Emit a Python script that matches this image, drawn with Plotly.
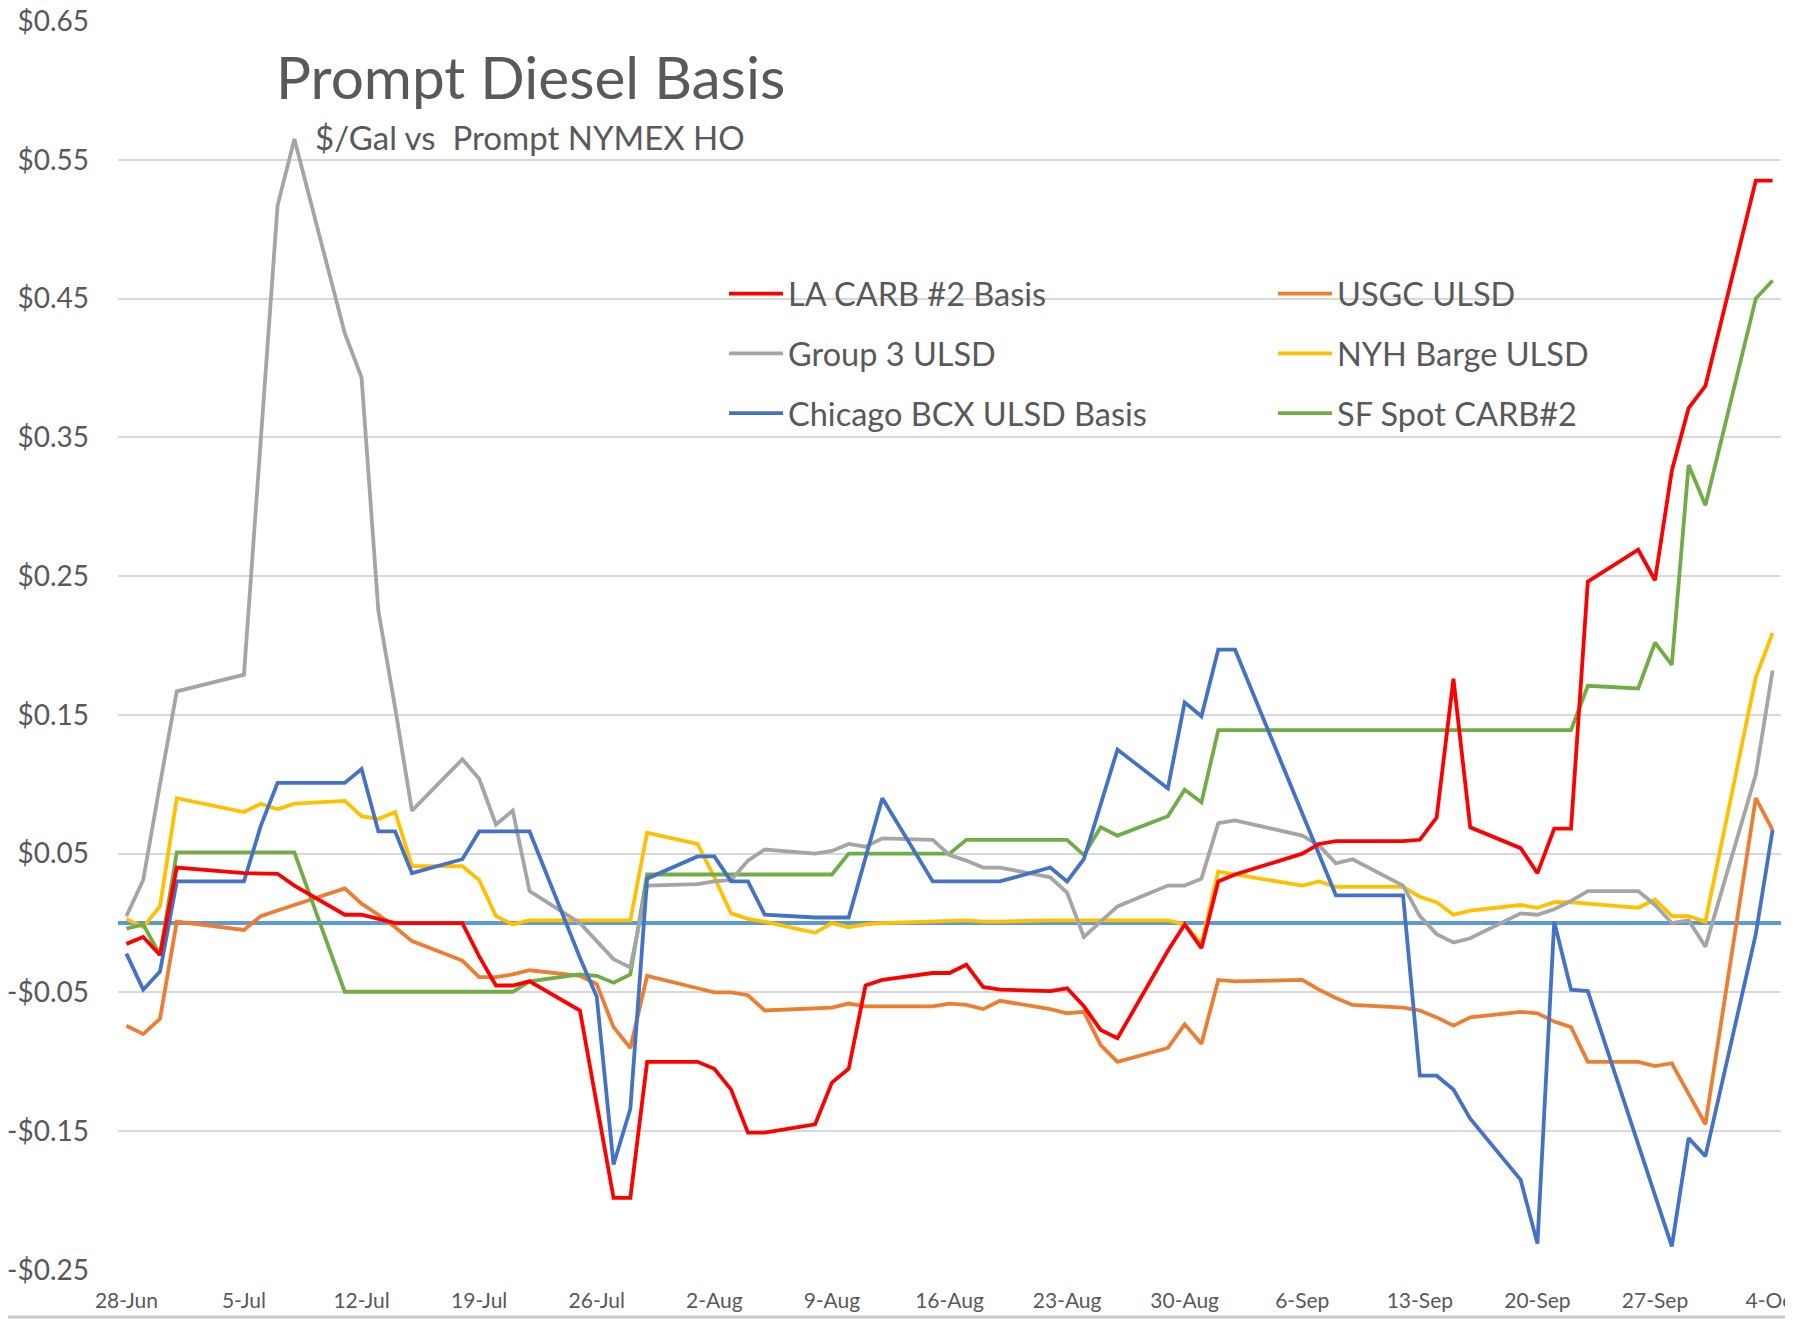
import plotly.graph_objects as go

dates = [
    "2022-06-28", "2022-06-29", "2022-06-30", "2022-07-01",
    "2022-07-05", "2022-07-06", "2022-07-07", "2022-07-08",
    "2022-07-11", "2022-07-12", "2022-07-13", "2022-07-14", "2022-07-15",
    "2022-07-18", "2022-07-19", "2022-07-20", "2022-07-21", "2022-07-22",
    "2022-07-25", "2022-07-26", "2022-07-27", "2022-07-28", "2022-07-29",
    "2022-08-01", "2022-08-02", "2022-08-03", "2022-08-04", "2022-08-05",
    "2022-08-08", "2022-08-09", "2022-08-10", "2022-08-11", "2022-08-12",
    "2022-08-15", "2022-08-16", "2022-08-17", "2022-08-18", "2022-08-19",
    "2022-08-22", "2022-08-23", "2022-08-24", "2022-08-25", "2022-08-26",
    "2022-08-29", "2022-08-30", "2022-08-31", "2022-09-01", "2022-09-02",
    "2022-09-06", "2022-09-07", "2022-09-08", "2022-09-09",
    "2022-09-12", "2022-09-13", "2022-09-14", "2022-09-15", "2022-09-16",
    "2022-09-19", "2022-09-20", "2022-09-21", "2022-09-22", "2022-09-23",
    "2022-09-26", "2022-09-27", "2022-09-28", "2022-09-29", "2022-09-30",
    "2022-10-03", "2022-10-04",
]

la_carb = [
    -0.015, -0.010, -0.023, 0.040,
    0.036, 0.0355, 0.0355, 0.027,
    0.006, 0.006, 0.003, 0.000, 0.000,
    0.000, -0.024, -0.045, -0.045, -0.042,
    -0.063, -0.130, -0.198, -0.198, -0.100,
    -0.100, -0.105, -0.120, -0.151, -0.151,
    -0.145, -0.115, -0.105, -0.045, -0.041,
    -0.036, -0.036, -0.030, -0.046, -0.048,
    -0.049, -0.047, -0.060, -0.077, -0.083,
    -0.020, -0.001, -0.018, 0.030, 0.035,
    0.050, 0.057, 0.059, 0.059,
    0.059, 0.060, 0.076, 0.176, 0.069,
    0.054, 0.036, 0.068, 0.068, 0.246,
    0.269, 0.247, 0.326, 0.371, 0.387,
    0.535, 0.535,
]

usgc = [
    -0.074, -0.080, -0.069, 0.001,
    -0.005, 0.005, 0.009, 0.013,
    0.025, 0.014, 0.006, -0.003, -0.013,
    -0.027, -0.039, -0.039, -0.037, -0.034,
    -0.038, -0.044, -0.075, -0.090, -0.038,
    -0.047, -0.050, -0.050, -0.052, -0.063,
    -0.062, -0.061, -0.058, -0.060, -0.060,
    -0.060, -0.058, -0.059, -0.062, -0.056,
    -0.062, -0.065, -0.064, -0.088, -0.100,
    -0.090, -0.073, -0.087, -0.041, -0.042,
    -0.041, -0.048, -0.054, -0.059,
    -0.061, -0.063, -0.068, -0.074, -0.068,
    -0.064, -0.065, -0.071, -0.075, -0.100,
    -0.100, -0.103, -0.101, -0.123, -0.145,
    0.090, 0.067,
]

group3 = [
    0.005, 0.031, 0.100, 0.167,
    0.179, 0.350, 0.517, 0.565,
    0.425, 0.393, 0.225, 0.155, 0.081,
    0.118, 0.104, 0.071, 0.081, 0.023,
    0.000, -0.013, -0.026, -0.032, 0.027,
    0.028, 0.030, 0.031, 0.045, 0.053,
    0.050, 0.052, 0.057, 0.055, 0.061,
    0.060, 0.049, 0.045, 0.040, 0.040,
    0.033, 0.022, -0.010, 0.001, 0.012,
    0.027, 0.027, 0.032, 0.072, 0.074,
    0.063, 0.056, 0.043, 0.046,
    0.027, 0.005, -0.008, -0.014, -0.011,
    0.007, 0.006, 0.010, 0.016, 0.023,
    0.023, 0.013, 0.000, 0.002, -0.017,
    0.107, 0.182,
]

nyh = [
    0.003, -0.003, 0.012, 0.090,
    0.080, 0.086, 0.082, 0.086,
    0.088, 0.077, 0.075, 0.080, 0.041,
    0.041, 0.031, 0.005, -0.001, 0.002,
    0.002, 0.002, 0.002, 0.002, 0.065,
    0.057, 0.033, 0.007, 0.003, 0.001,
    -0.007, 0.000, -0.003, -0.001, 0.000,
    0.001, 0.002, 0.002, 0.001, 0.001,
    0.002, 0.002, 0.002, 0.002, 0.002,
    0.002, -0.001, -0.015, 0.037, 0.035,
    0.027, 0.030, 0.026, 0.026,
    0.026, 0.019, 0.015, 0.006, 0.009,
    0.013, 0.011, 0.015, 0.015, 0.014,
    0.011, 0.017, 0.005, 0.005, 0.001,
    0.177, 0.209,
]

chicago = [
    -0.022, -0.048, -0.035, 0.030,
    0.030, 0.070, 0.101, 0.101,
    0.101, 0.111, 0.066, 0.066, 0.036,
    0.046, 0.066, 0.066, 0.066, 0.066,
    -0.025, -0.053, -0.174, -0.134, 0.032,
    0.048, 0.048, 0.030, 0.030, 0.006,
    0.004, 0.004, 0.004, 0.047, 0.090,
    0.030, 0.030, 0.030, 0.030, 0.030,
    0.040, 0.030, 0.046, 0.085, 0.125,
    0.097, 0.159, 0.149, 0.197, 0.197,
    0.079, 0.049, 0.020, 0.020,
    0.020, -0.110, -0.110, -0.120, -0.141,
    -0.185, -0.231, 0.001, -0.048, -0.049,
    -0.159, -0.195, -0.233, -0.155, -0.168,
    -0.008, 0.067,
]

sf_spot = [
    -0.004, -0.001, -0.023, 0.051,
    0.051, 0.051, 0.051, 0.051,
    -0.0495, -0.0495, -0.0495, -0.0495, -0.0495,
    -0.0495, -0.0495, -0.0495, -0.0495, -0.042,
    -0.037, -0.038, -0.043, -0.037, 0.035,
    0.035, 0.035, 0.035, 0.035, 0.035,
    0.035, 0.035, 0.050, 0.050, 0.050,
    0.050, 0.050, 0.060, 0.060, 0.060,
    0.060, 0.060, 0.049, 0.069, 0.063,
    0.077, 0.096, 0.087, 0.139, 0.139,
    0.139, 0.139, 0.139, 0.139,
    0.139, 0.139, 0.139, 0.139, 0.139,
    0.139, 0.139, 0.139, 0.139, 0.171,
    0.169, 0.202, 0.186, 0.330, 0.301,
    0.450, 0.463,
]

x_tick_vals = [
    "2022-06-28", "2022-07-05", "2022-07-12", "2022-07-19", "2022-07-26",
    "2022-08-02", "2022-08-09", "2022-08-16", "2022-08-23", "2022-08-30",
    "2022-09-06", "2022-09-13", "2022-09-20", "2022-09-27", "2022-10-04",
]
x_tick_text = [
    "28-Jun", "5-Jul", "12-Jul", "19-Jul", "26-Jul", "2-Aug", "9-Aug",
    "16-Aug", "23-Aug", "30-Aug", "6-Sep", "13-Sep", "20-Sep", "27-Sep", "4-Oct",
]
y_tick_vals = [-0.25, -0.15, -0.05, 0.05, 0.15, 0.25, 0.35, 0.45, 0.55, 0.65]
y_tick_text = ["-$0.25", "-$0.15", "-$0.05", "$0.05", "$0.15", "$0.25",
               "$0.35", "$0.45", "$0.55", "$0.65"]

series = [
    ("LA CARB #2 Basis", la_carb, "#FF0000", "legend"),
    ("Group 3 ULSD", group3, "#A5A5A5", "legend"),
    ("Chicago BCX ULSD Basis", chicago, "#4472C4", "legend"),
    ("USGC ULSD", usgc, "#ED7D31", "legend2"),
    ("NYH Barge ULSD", nyh, "#FFC000", "legend2"),
    ("SF Spot CARB#2", sf_spot, "#70AD47", "legend2"),
]
draw_order = ["USGC ULSD", "NYH Barge ULSD", "SF Spot CARB#2",
              "Group 3 ULSD", "Chicago BCX ULSD Basis", "LA CARB #2 Basis"]

TXT = "#595959"
FONT = "Lato"

fig = go.Figure()
lookup = {s[0]: s for s in series}
names = [s[0] for s in series]
for name in draw_order:
    nm, vals, col, leg = lookup[name]
    fig.add_trace(go.Scatter(
        x=dates, y=vals, name=nm, mode="lines",
        line=dict(color=col, width=3.8),
        legend=leg, legendgroup=nm,
        legendrank=names.index(nm),
    ))

# the page body has an 8px margin: the figure starts at (8, 8) in the window
OFF = 8
WIN_W, WIN_H = 1793, 1320
W, H = WIN_W - OFF, WIN_H - OFF
PL, PR, PT, PB = 118, 1781, 21, 1270          # plot area in window pixels
L, T = PL - OFF, PT - OFF
R, B = WIN_W - PR, WIN_H - PB
pw, ph = PR - PL, PB - PT

def px_x(x):
    return (x - PL) / pw

def px_y(y):
    return (PB - y) / ph

legend_common = dict(
    font=dict(family=FONT, size=32.5, color=TXT),
    bgcolor="rgba(0,0,0,0)", borderwidth=0,
    orientation="v", tracegroupgap=14.5,
    xanchor="left", yanchor="top", itemwidth=54,
)

fig.update_layout(
    width=W, height=H,
    margin=dict(l=L, r=R, t=T, b=B, autoexpand=False),
    paper_bgcolor="white", plot_bgcolor="white",
    font=dict(family=FONT, color=TXT),
    showlegend=True,
    legend=dict(x=px_x(724), y=px_y(266), **legend_common),
    legend2=dict(x=px_x(1273), y=px_y(266), **legend_common),
    xaxis=dict(
        type="date", automargin=False,
        range=["2022-06-27 12:00", "2022-10-04 12:00"],
        tickvals=x_tick_vals, ticktext=x_tick_text,
        tickfont=dict(family=FONT, size=21, color=TXT),
        showgrid=False, zeroline=False, showline=False, ticks="",
        ticklabelstandoff=16, ticklabeloverflow="allow",
    ),
    yaxis=dict(
        range=[-0.25, 0.65], automargin=False,
        tickvals=y_tick_vals, ticktext=y_tick_text,
        tickfont=dict(family=FONT, size=28, color=TXT),
        showgrid=True, gridcolor="#D9D9D9", gridwidth=1.5,
        zeroline=True, zerolinecolor="#5B9BD5", zerolinewidth=4,
        showline=False, ticks="", ticklabelstandoff=28,
        ticklabeloverflow="allow",
    ),
    annotations=[
        dict(text="Prompt Diesel Basis", xref="paper", yref="paper",
             x=px_x(274), y=px_y(76), xanchor="left", yanchor="middle",
             showarrow=False, font=dict(family=FONT, size=58.5, color=TXT)),
        dict(text="$/Gal vs \u00a0Prompt NYMEX HO", xref="paper", yref="paper",
             x=px_x(313), y=px_y(137), xanchor="left", yanchor="middle",
             showarrow=False, font=dict(family=FONT, size=33, color=TXT)),
    ],
    shapes=[
        dict(type="line", xref="paper", yref="paper", x0=px_x(0), x1=px_x(WIN_W),
             y0=px_y(1317), y1=px_y(1317), line=dict(color="#C8C8C8", width=3)),
        dict(type="line", xref="paper", yref="paper", x0=px_x(1791), x1=px_x(1791),
             y0=px_y(0), y1=px_y(WIN_H), line=dict(color="#C8C8C8", width=2)),
    ],
)

fig.write_html("out.html")
